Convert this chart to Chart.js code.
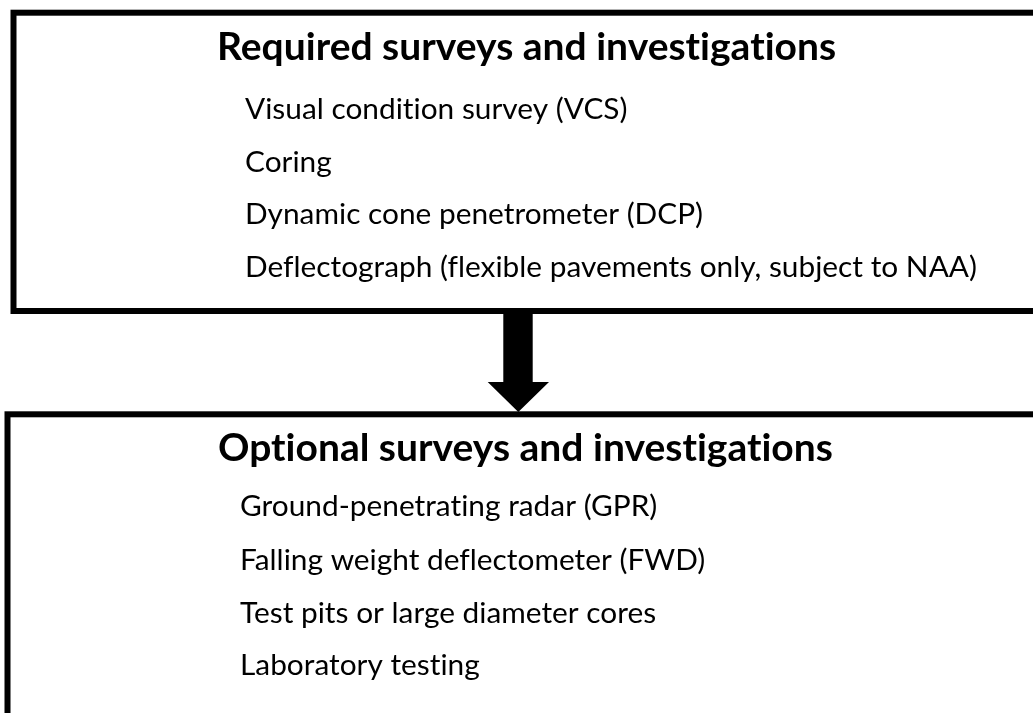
<!DOCTYPE html>
<html>
<head>
<meta charset="utf-8">
<script src="https://cdn.jsdelivr.net/npm/chart.js@4/dist/chart.umd.min.js"></script>
<style>
html,body{margin:0;padding:0;background:#fff;}
#wrap{width:1033px;height:713px;position:relative;}
</style>
</head>
<body>
<div id="wrap"><canvas id="c" width="1033" height="713"></canvas></div>
<script>
const requiredTitle = "Required surveys and investigations";
const requiredItems = [
  "Visual condition survey (VCS)",
  "Coring",
  "Dynamic cone penetrometer (DCP)",
  "Deflectograph (flexible pavements only, subject to NAA)"
];
const optionalTitle = "Optional surveys and investigations";
const optionalItems = [
  "Ground-penetrating radar (GPR)",
  "Falling weight deflectometer (FWD)",
  "Test pits or large diameter cores",
  "Laboratory testing"
];

const FAMILY = "Lato, 'Open Sans', 'Noto Sans', sans-serif";

function noLig(ctx) {
  if ('letterSpacing' in ctx) ctx.letterSpacing = '0.01px';
  if ('textRendering' in ctx) ctx.textRendering = 'optimizeSpeed';
}

function fitSize(ctx, text, weight, target) {
  ctx.font = weight + " 100px " + FAMILY;
  const w = ctx.measureText(text).width;
  return 100 * target / w;
}

const flowPlugin = {
  id: 'flow',
  afterDraw(chart) {
    const ctx = chart.ctx;
    const xs = chart.scales.x, ys = chart.scales.y;
    const X = v => xs.getPixelForValue(v);
    const Y = v => ys.getPixelForValue(v);
    ctx.save();
    ctx.fillStyle = '#fff';
    ctx.fillRect(0, 0, chart.width, chart.height);
    ctx.strokeStyle = '#000';
    ctx.lineWidth = 6;
    ctx.lineJoin = 'miter';
    // top box
    ctx.strokeRect(X(13.5), Y(12.7), X(1060) - X(13.5), Y(311) - Y(12.7));
    // bottom box
    ctx.strokeRect(X(7.5), Y(414.3), X(1060) - X(7.5), Y(760) - Y(414.3));
    // arrow
    ctx.fillStyle = '#000';
    ctx.beginPath();
    ctx.moveTo(X(503.3), Y(312));
    ctx.lineTo(X(532.7), Y(312));
    ctx.lineTo(X(532.7), Y(382));
    ctx.lineTo(X(549), Y(382));
    ctx.lineTo(X(518.3), Y(412));
    ctx.lineTo(X(487.7), Y(382));
    ctx.lineTo(X(503.3), Y(382));
    ctx.closePath();
    ctx.fill();

    // text
    noLig(ctx);
    ctx.textBaseline = 'alphabetic';
    ctx.textAlign = 'left';
    const boldSize = fitSize(ctx, requiredTitle, '700', 619);
    const regSize = fitSize(ctx, requiredItems[3], '400', 732);
    ctx.fillStyle = '#000';
    ctx.font = '700 ' + boldSize + 'px ' + FAMILY;
    ctx.fillText(requiredTitle, X(217), Y(60));
    ctx.fillText(optionalTitle, X(218), Y(461));
    ctx.font = '400 ' + regSize + 'px ' + FAMILY;
    const topBase = [119, 171.5, 224, 276.5];
    requiredItems.forEach((t, i) => ctx.fillText(t, X(245), Y(topBase[i])));
    const botBase = [516, 569.5, 622.5, 675];
    optionalItems.forEach((t, i) => ctx.fillText(t, X(240), Y(botBase[i])));
    ctx.restore();
  }
};

function build() {
  new Chart(document.getElementById('c'), {
    type: 'scatter',
    data: { datasets: [{ data: [], pointRadius: 0 }] },
    options: {
      responsive: false,
      animation: false,
      layout: { padding: 0 },
      plugins: { legend: { display: false }, tooltip: { enabled: false } },
      scales: {
        x: { type: 'linear', min: 0, max: 1033, display: false },
        y: { type: 'linear', min: 0, max: 713, reverse: true, display: false }
      }
    },
    plugins: [flowPlugin]
  });
}
if (document.fonts && document.fonts.load) {
  Promise.all([
    document.fonts.load("700 30px Lato"),
    document.fonts.load("400 30px Lato")
  ]).then(build, build);
} else {
  build();
}
</script>
</body>
</html>
